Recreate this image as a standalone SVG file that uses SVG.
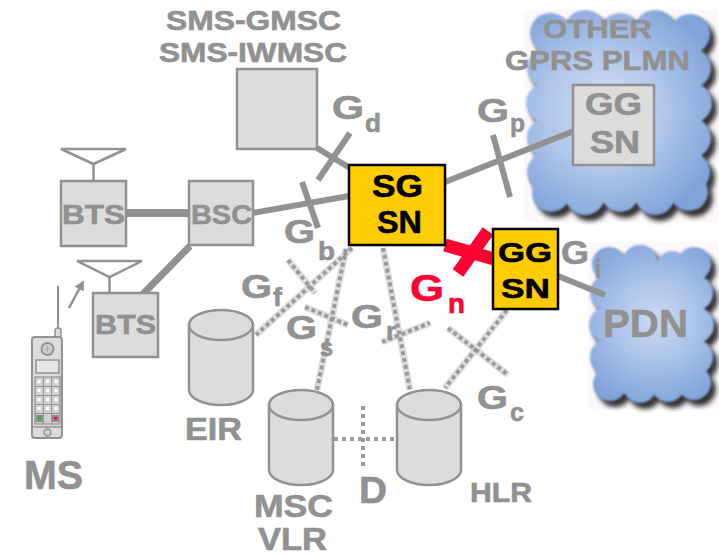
<svg xmlns="http://www.w3.org/2000/svg" xmlns:xlink="http://www.w3.org/1999/xlink" width="719" height="556" viewBox="0 0 719 556">
  <style>
    .t { font-family: "Liberation Sans", Arial, sans-serif; font-weight: bold; fill: #919191; stroke: #919191; stroke-width: 0.6; }
    .tk { font-family: "Liberation Sans", Arial, sans-serif; font-weight: bold; fill: #000; stroke: #000; stroke-width: 0.6; }
    .tr { font-family: "Liberation Sans", Arial, sans-serif; font-weight: bold; fill: #ff0033; stroke: #ff0033; stroke-width: 0.6; }
    .g { font-size: 33px; }
    .sub { font-size: 26px; }
    .box { fill: #dcdcdc; stroke: #919191; stroke-width: 2.5; }
    .ybox { fill: #ffcc00; stroke: #000; stroke-width: 2.5; }
    .link { stroke: #919191; fill: none; stroke-linecap: butt; }
    .band { stroke: #dedede; stroke-width: 7; fill: none; }
    .dash { stroke: #9a9a9a; stroke-width: 4; stroke-dasharray: 4 3; fill: none; }
    .dashD { stroke: #9a9a9a; stroke-width: 4; stroke-dasharray: 4 4; fill: none; }
    .cyl { fill: #dcdcdc; stroke: #919191; stroke-width: 2.5; }
  </style>
  <defs>
    <radialGradient id="sky1" gradientUnits="userSpaceOnUse" cx="605" cy="110" r="120">
      <stop offset="0" stop-color="#d3e0f3"/>
      <stop offset="0.5" stop-color="#b0c6e9"/>
      <stop offset="0.85" stop-color="#8eaedf"/>
      <stop offset="1" stop-color="#7fa2d9"/>
    </radialGradient>
    <radialGradient id="sky2" gradientUnits="userSpaceOnUse" cx="655" cy="320" r="90">
      <stop offset="0" stop-color="#cbdaf1"/>
      <stop offset="0.5" stop-color="#a8c1e7"/>
      <stop offset="0.85" stop-color="#8aabde"/>
      <stop offset="1" stop-color="#7fa2d9"/>
    </radialGradient>
    <filter id="soft" x="-10%" y="-10%" width="120%" height="120%">
      <feGaussianBlur stdDeviation="1.2"/>
    </filter>
    <filter id="shade" x="-10%" y="-10%" width="130%" height="130%">
      <feGaussianBlur stdDeviation="2.5"/>
    </filter>
    <g id="cloudA">
      <rect x="547" y="32" width="143" height="160"/>
      <circle cx="550" cy="33" r="20"/><circle cx="585" cy="31" r="21"/><circle cx="620" cy="33" r="20"/>
      <circle cx="655" cy="31" r="21"/><circle cx="690" cy="34" r="20"/>
      <circle cx="547" cy="68" r="20"/><circle cx="546" cy="103" r="20"/><circle cx="547" cy="138" r="20"/><circle cx="547" cy="172" r="20"/>
      <circle cx="691" cy="68" r="20"/><circle cx="692" cy="103" r="20"/><circle cx="691" cy="138" r="20"/><circle cx="690" cy="172" r="20"/>
      <circle cx="551" cy="193" r="19"/><circle cx="585" cy="195" r="20"/><circle cx="620" cy="193" r="19"/>
      <circle cx="655" cy="195" r="20"/><circle cx="689" cy="192" r="19"/>
    </g>
    <g id="cloudB">
      <rect x="608" y="263" width="87" height="122"/>
      <circle cx="609" cy="264" r="17"/><circle cx="640" cy="263" r="18"/><circle cx="694" cy="264" r="17"/><circle cx="672" cy="266" r="15"/>
      <circle cx="608" cy="293" r="18"/><circle cx="607" cy="325" r="18"/><circle cx="608" cy="357" r="18"/>
      <circle cx="695" cy="293" r="18"/><circle cx="696" cy="325" r="18"/><circle cx="695" cy="357" r="18"/>
      <circle cx="610" cy="384" r="17"/><circle cx="640" cy="386" r="17"/><circle cx="668" cy="385" r="17"/><circle cx="694" cy="383" r="17"/>
    </g>
    <marker id="arrowHead" viewBox="0 0 10 10" refX="8" refY="5" markerWidth="4" markerHeight="4" orient="auto" markerUnits="strokeWidth">
      <path d="M0,0 L10,5 L0,10 z" fill="#919191"/>
    </marker>
  </defs>

  <rect width="719" height="556" fill="#ffffff"/>

  <!-- clouds -->
  <g id="cloud-plmn">
    <rect x="524" y="10" width="194" height="212" fill="#fcf7fb"/>
    <use xlink:href="#cloudA" fill="#1a1a1a" opacity="0.9" transform="translate(5,6)" filter="url(#shade)"/>
    <use xlink:href="#cloudA" fill="url(#sky1)" filter="url(#soft)"/>
  </g>
  <g id="cloud-pdn">
    <rect x="588" y="242" width="130" height="167" fill="#fcf7fb"/>
    <use xlink:href="#cloudB" fill="#1a1a1a" opacity="0.9" transform="translate(5,6)" filter="url(#shade)"/>
    <use xlink:href="#cloudB" fill="url(#sky2)" filter="url(#soft)"/>
  </g>

  <!-- connectors -->
  <g id="connectors">
    <!-- radio side -->
    <line class="link" x1="126" y1="213" x2="189" y2="213" stroke-width="8"/>
    <line class="link" x1="190" y1="246" x2="143" y2="294" stroke-width="7"/>
    <line class="link" x1="69" y1="308" x2="83" y2="282" stroke-width="2.5" marker-end="url(#arrowHead)"/>
    <!-- Gb -->
    <line class="link" x1="253" y1="213" x2="349" y2="196" stroke-width="6"/>
    <line class="link" x1="302" y1="182" x2="318" y2="228" stroke-width="6"/>
    <!-- Gd -->
    <line class="link" x1="317" y1="148" x2="350" y2="168" stroke-width="6"/>
    <line class="link" x1="350" y1="133" x2="318" y2="180" stroke-width="6"/>
    <!-- Gp -->
    <line class="link" x1="445" y1="182" x2="574" y2="131" stroke-width="6"/>
    <line class="link" x1="493" y1="135" x2="510" y2="197" stroke-width="6"/>
    <!-- Gi -->
    <line class="link" x1="558" y1="276" x2="605" y2="295" stroke-width="6"/>

    <!-- signalling links: light band with dotted core -->
    <g>
      <path class="band" d="M352,248 L256,335"/>
      <path class="band" d="M288,260 L315,293"/>
      <path class="band" d="M346,249 L317,390"/>
      <path class="band" d="M305,307 L348,325"/>
      <path class="band" d="M383,248 L410,390"/>
      <path class="band" d="M382,342 L430,323"/>
      <path class="band" d="M507,310 L445,388"/>
      <path class="band" d="M448,328 L508,375"/>
      <path class="dash" d="M352,248 L256,335"/>
      <path class="dash" d="M288,260 L315,293"/>
      <path class="dash" d="M346,249 L317,390"/>
      <path class="dash" d="M305,307 L348,325"/>
      <path class="dash" d="M383,248 L410,390"/>
      <path class="dash" d="M382,342 L430,323"/>
      <path class="dash" d="M507,310 L445,388"/>
      <path class="dash" d="M448,328 L508,375"/>
      <!-- D -->
      <path class="dashD" d="M334,439 L397,439"/>
      <path class="dashD" d="M363,406 L363,468"/>
    </g>

    <!-- Gn -->
    <g stroke="#ff0033" stroke-width="13">
      <line x1="445" y1="245" x2="494" y2="259"/>
      <line x1="458" y1="273" x2="488" y2="231"/>
    </g>
  </g>

  <!-- nodes -->
  <g id="sms-gmsc">
    <rect class="box" x="237" y="69" width="80" height="80"/>
    <text class="t" x="166" y="30" font-size="27" textLength="175" lengthAdjust="spacingAndGlyphs">SMS-GMSC</text>
    <text class="t" x="159" y="62" font-size="27" textLength="188" lengthAdjust="spacingAndGlyphs">SMS-IWMSC</text>
  </g>

  <g id="bts1">
    <path d="M61,149 L126,149 L93.5,164 Z M93.5,164 L93.5,181" fill="none" stroke="#919191" stroke-width="2.5" stroke-linejoin="miter"/>
    <rect class="box" x="61" y="181" width="65" height="65"/>
    <text class="t" x="62" y="224" font-size="28" textLength="63" lengthAdjust="spacingAndGlyphs">BTS</text>
  </g>

  <g id="bsc">
    <rect class="box" x="189" y="181" width="64" height="64"/>
    <text class="t" x="191" y="224" font-size="28" textLength="61" lengthAdjust="spacingAndGlyphs">BSC</text>
  </g>

  <g id="bts2">
    <path d="M77,261 L142,261 L109.5,277 Z M109.5,277 L109.5,293" fill="none" stroke="#919191" stroke-width="2.5"/>
    <rect class="box" x="93" y="293" width="65" height="64"/>
    <text class="t" x="95" y="334" font-size="28" textLength="61" lengthAdjust="spacingAndGlyphs">BTS</text>
  </g>

  <g id="ms">
    <line x1="58" y1="286" x2="58" y2="332" stroke="#919191" stroke-width="2"/>
    <rect x="55" y="328" width="6" height="10" rx="3" fill="#dcdcdc" stroke="#919191" stroke-width="1.5"/>
    <rect x="32" y="337" width="30" height="101" rx="3" fill="#dcdcdc" stroke="#919191" stroke-width="2"/>
    <circle cx="47.5" cy="349" r="6" fill="#cfcfcf" stroke="#919191" stroke-width="2"/>
    <path d="M44.5,349 h6 M47.5,346 v6" stroke="#aaaaaa" stroke-width="1"/>
    <rect x="36" y="360" width="23" height="13" fill="#e6e6e6" stroke="#919191" stroke-width="1.5"/>
    <rect x="35" y="377" width="25" height="47" fill="#d2d2d2" stroke="#919191" stroke-width="1.2"/>
    <path d="M43.3,377 v47 M51.7,377 v47 M35,386.5 h25 M35,395.5 h25 M35,404.5 h25 M35,413.5 h25" stroke="#919191" stroke-width="1"/>
    <g fill="#ffffff">
      <rect x="37.5" y="380" width="3" height="3"/><rect x="46" y="380" width="3" height="3"/><rect x="54.5" y="380" width="3" height="3"/>
      <rect x="37.5" y="389" width="3" height="3"/><rect x="46" y="389" width="3" height="3"/><rect x="54.5" y="389" width="3" height="3"/>
      <rect x="37.5" y="398" width="3" height="3"/><rect x="46" y="398" width="3" height="3"/><rect x="54.5" y="398" width="3" height="3"/>
      <rect x="37.5" y="407" width="3" height="3"/><rect x="46" y="407" width="3" height="3"/><rect x="54.5" y="407" width="3" height="3"/>
    </g>
    <rect x="36" y="415" width="7" height="7" fill="#8c8c8c"/>
    <rect x="52" y="415" width="7" height="7" fill="#8c8c8c"/>
    <rect x="38" y="417" width="3" height="2.5" fill="#00cc33"/>
    <rect x="54" y="417" width="3" height="2.5" fill="#ff0033"/>
    <line x1="33" y1="427" x2="61" y2="427" stroke="#919191" stroke-width="1.5"/>
    <circle cx="47.5" cy="432.5" r="3.5" fill="#cfcfcf" stroke="#919191" stroke-width="1.5"/>
    <text class="t" x="24" y="489" font-size="40" textLength="59" lengthAdjust="spacingAndGlyphs">MS</text>
  </g>

  <g id="sgsn">
    <rect class="ybox" x="349" y="165" width="96" height="80"/>
    <text class="tk" x="372" y="197" font-size="31" textLength="51" lengthAdjust="spacingAndGlyphs">SG</text>
    <text class="tk" x="377" y="233" font-size="31" textLength="45" lengthAdjust="spacingAndGlyphs">SN</text>
  </g>

  <g id="ggsn">
    <rect class="ybox" x="493" y="229" width="65" height="80"/>
    <text class="tk" x="498" y="262" font-size="28" textLength="54" lengthAdjust="spacingAndGlyphs">GG</text>
    <text class="tk" x="501" y="298" font-size="28" textLength="49" lengthAdjust="spacingAndGlyphs">SN</text>
  </g>

  <g id="other-plmn">
    <rect class="box" x="573" y="85" width="81" height="80"/>
    <text class="t" x="585" y="115" font-size="31" textLength="57" lengthAdjust="spacingAndGlyphs">GG</text>
    <text class="t" x="590" y="153" font-size="31" textLength="50" lengthAdjust="spacingAndGlyphs">SN</text>
    <text class="t" x="543" y="38" font-size="26" textLength="109" lengthAdjust="spacingAndGlyphs">OTHER</text>
    <text class="t" x="505" y="70" font-size="27" textLength="185" lengthAdjust="spacingAndGlyphs">GPRS PLMN</text>
  </g>

  <g id="pdn">
    <text class="t" x="603" y="337" font-size="39" textLength="85" lengthAdjust="spacingAndGlyphs">PDN</text>
  </g>

  <g id="eir">
    <path class="cyl" d="M189,325 V390 A32,15 0 0 0 253,390 V325"/>
    <ellipse class="cyl" cx="221" cy="325" rx="32" ry="15"/>
    <text class="t" x="185" y="440" font-size="32" textLength="57" lengthAdjust="spacingAndGlyphs">EIR</text>
  </g>

  <g id="msc-vlr">
    <path class="cyl" d="M269,405 V470 A32,15 0 0 0 333,470 V405"/>
    <ellipse class="cyl" cx="301" cy="405" rx="32" ry="15"/>
    <text class="t" x="254" y="517" font-size="32" textLength="79" lengthAdjust="spacingAndGlyphs">MSC</text>
    <text class="t" x="258" y="550" font-size="31" textLength="69" lengthAdjust="spacingAndGlyphs">VLR</text>
  </g>

  <g id="hlr">
    <path class="cyl" d="M397,405 V470 A32,15 0 0 0 461,470 V405"/>
    <ellipse class="cyl" cx="429" cy="405" rx="32" ry="15"/>
    <text class="t" x="470" y="502" font-size="28" textLength="62" lengthAdjust="spacingAndGlyphs">HLR</text>
  </g>

  <!-- interface labels -->
  <g id="interface-labels">
    <text class="t g" x="332" y="119" textLength="32" lengthAdjust="spacingAndGlyphs">G</text>
    <text class="t sub" x="365" y="132" textLength="16" lengthAdjust="spacingAndGlyphs">d</text>
    <text class="t g" x="477" y="122" textLength="32" lengthAdjust="spacingAndGlyphs">G</text>
    <text class="t sub" x="510" y="132" textLength="15" lengthAdjust="spacingAndGlyphs">p</text>
    <text class="t g" x="284" y="243" textLength="31" lengthAdjust="spacingAndGlyphs">G</text>
    <text class="t sub" x="318" y="260" textLength="17" lengthAdjust="spacingAndGlyphs">b</text>
    <text class="t g" x="241" y="298" textLength="31" lengthAdjust="spacingAndGlyphs">G</text>
    <text class="t sub" x="273" y="306" textLength="9" lengthAdjust="spacingAndGlyphs">f</text>
    <text class="t g" x="286" y="339" textLength="31" lengthAdjust="spacingAndGlyphs">G</text>
    <text class="t sub" x="320" y="356" textLength="13" lengthAdjust="spacingAndGlyphs">s</text>
    <text class="t g" x="351" y="328" textLength="32" lengthAdjust="spacingAndGlyphs">G</text>
    <text class="t sub" x="386" y="340" textLength="10" lengthAdjust="spacingAndGlyphs">r</text>
    <text class="t g" x="477" y="409" textLength="31" lengthAdjust="spacingAndGlyphs">G</text>
    <text class="t sub" x="510" y="421" textLength="14" lengthAdjust="spacingAndGlyphs">c</text>
    <text class="t g" x="561" y="264" textLength="28" lengthAdjust="spacingAndGlyphs">G</text>
    <text class="t sub" x="595" y="278" textLength="6" lengthAdjust="spacingAndGlyphs">i</text>
    <text class="t" x="359" y="503" font-size="37" textLength="28" lengthAdjust="spacingAndGlyphs">D</text>
    <text class="tr" x="410" y="301" font-size="37" textLength="34" lengthAdjust="spacingAndGlyphs">G</text>
    <text class="tr" x="448" y="313" font-size="28" textLength="17" lengthAdjust="spacingAndGlyphs">n</text>
  </g>
</svg>
